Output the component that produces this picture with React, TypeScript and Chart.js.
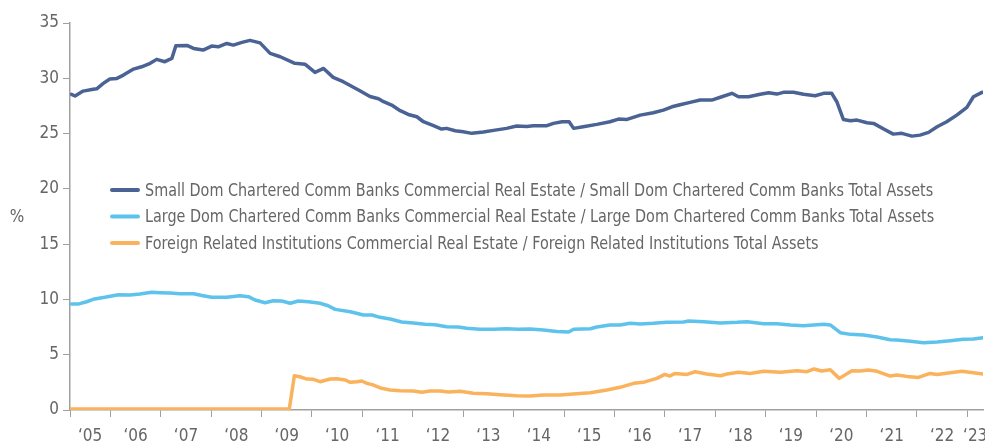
import React, { useEffect, useRef } from "react";
import { Chart, registerables } from "chart.js";

Chart.register(...registerables);

// ---- data (x = decimal year) ----
const smallX = [2005.23, 2005.30, 2005.46, 2005.66, 2005.73, 2005.86, 2005.99, 2006.13, 2006.26, 2006.46, 2006.62, 2006.79, 2006.92, 2007.08, 2007.22, 2007.30, 2007.52, 2007.65, 2007.84, 2008.01, 2008.14, 2008.31, 2008.44, 2008.61, 2008.77, 2008.97, 2009.17, 2009.37, 2009.66, 2009.86, 2010.06, 2010.23, 2010.42, 2010.62, 2010.95, 2011.15, 2011.32, 2011.42, 2011.58, 2011.75, 2011.91, 2012.08, 2012.21, 2012.41, 2012.57, 2012.67, 2012.84, 2013.00, 2013.17, 2013.40, 2013.60, 2013.86, 2014.06, 2014.26, 2014.39, 2014.66, 2014.79, 2014.96, 2015.10, 2015.19, 2015.38, 2015.65, 2015.91, 2016.08, 2016.25, 2016.51, 2016.77, 2016.97, 2017.14, 2017.30, 2017.50, 2017.70, 2017.93, 2018.13, 2018.33, 2018.46, 2018.66, 2018.89, 2019.06, 2019.22, 2019.35, 2019.55, 2019.75, 2019.98, 2020.15, 2020.31, 2020.41, 2020.54, 2020.68, 2020.81, 2021.01, 2021.14, 2021.34, 2021.53, 2021.70, 2021.90, 2022.06, 2022.23, 2022.40, 2022.59, 2022.79, 2022.99, 2023.12, 2023.29];
const smallY = [28.55, 28.4, 28.84, 29.0, 29.05, 29.54, 29.93, 29.99, 30.29, 30.83, 31.04, 31.35, 31.71, 31.5, 31.8, 32.94, 32.97, 32.7, 32.55, 32.91, 32.85, 33.15, 33.0, 33.25, 33.43, 33.2, 32.25, 31.95, 31.35, 31.28, 30.53, 30.89, 30.08, 29.69, 28.87, 28.35, 28.15, 27.88, 27.58, 27.07, 26.73, 26.52, 26.07, 25.71, 25.41, 25.47, 25.26, 25.16, 25.02, 25.14, 25.29, 25.47, 25.68, 25.65, 25.71, 25.71, 25.92, 26.07, 26.07, 25.47, 25.62, 25.83, 26.07, 26.31, 26.28, 26.67, 26.88, 27.12, 27.42, 27.6, 27.82, 28.03, 28.03, 28.33, 28.64, 28.33, 28.33, 28.55, 28.69, 28.57, 28.73, 28.73, 28.55, 28.42, 28.64, 28.64, 27.88, 26.28, 26.16, 26.22, 25.98, 25.92, 25.41, 24.95, 25.02, 24.77, 24.86, 25.11, 25.62, 26.07, 26.67, 27.37, 28.33, 28.73];

const largeX = [2005.23, 2005.36, 2005.53, 2005.66, 2005.89, 2006.16, 2006.39, 2006.59, 2006.82, 2006.99, 2007.18, 2007.38, 2007.65, 2007.84, 2008.01, 2008.31, 2008.57, 2008.74, 2008.87, 2009.07, 2009.23, 2009.40, 2009.57, 2009.73, 2009.93, 2010.16, 2010.32, 2010.46, 2010.76, 2011.02, 2011.19, 2011.35, 2011.55, 2011.78, 2012.01, 2012.24, 2012.44, 2012.67, 2012.90, 2013.07, 2013.33, 2013.60, 2013.86, 2014.09, 2014.33, 2014.59, 2014.86, 2015.09, 2015.19, 2015.52, 2015.65, 2015.91, 2016.11, 2016.31, 2016.51, 2016.77, 2017.04, 2017.37, 2017.47, 2017.77, 2018.10, 2018.43, 2018.63, 2018.96, 2019.22, 2019.49, 2019.75, 2019.95, 2020.15, 2020.28, 2020.48, 2020.68, 2020.94, 2021.21, 2021.47, 2021.60, 2021.87, 2022.13, 2022.40, 2022.66, 2022.92, 2023.12, 2023.31];
const largeY = [9.58, 9.58, 9.79, 10.01, 10.19, 10.43, 10.40, 10.49, 10.64, 10.61, 10.58, 10.52, 10.52, 10.34, 10.19, 10.19, 10.34, 10.25, 9.95, 9.70, 9.88, 9.86, 9.65, 9.86, 9.79, 9.65, 9.43, 9.10, 8.89, 8.59, 8.59, 8.38, 8.23, 7.96, 7.87, 7.75, 7.71, 7.53, 7.50, 7.39, 7.30, 7.30, 7.35, 7.30, 7.32, 7.23, 7.11, 7.05, 7.30, 7.35, 7.50, 7.69, 7.69, 7.84, 7.78, 7.84, 7.93, 7.96, 8.05, 7.99, 7.87, 7.93, 7.99, 7.81, 7.81, 7.69, 7.62, 7.69, 7.75, 7.69, 6.99, 6.84, 6.78, 6.60, 6.36, 6.33, 6.21, 6.09, 6.15, 6.27, 6.39, 6.42, 6.54];

const foreignX = [2005.2, 2009.55, 2009.65, 2009.76, 2009.90, 2010.03, 2010.16, 2010.36, 2010.49, 2010.66, 2010.76, 2010.89, 2010.99, 2011.09, 2011.22, 2011.38, 2011.55, 2011.75, 2012.01, 2012.18, 2012.34, 2012.54, 2012.71, 2012.94, 2013.20, 2013.47, 2013.73, 2014.06, 2014.33, 2014.59, 2014.92, 2015.25, 2015.52, 2015.85, 2016.11, 2016.38, 2016.57, 2016.84, 2017.00, 2017.10, 2017.20, 2017.44, 2017.60, 2017.83, 2018.10, 2018.23, 2018.46, 2018.69, 2018.96, 2019.29, 2019.62, 2019.82, 2019.96, 2020.11, 2020.28, 2020.46, 2020.71, 2020.87, 2021.04, 2021.21, 2021.47, 2021.60, 2021.80, 2022.03, 2022.26, 2022.40, 2022.66, 2022.89, 2023.12, 2023.31];
const foreignY = [0.1, 0.1, 3.10, 3.01, 2.80, 2.77, 2.56, 2.80, 2.83, 2.71, 2.50, 2.56, 2.62, 2.41, 2.26, 1.96, 1.81, 1.75, 1.72, 1.60, 1.72, 1.72, 1.63, 1.69, 1.51, 1.47, 1.38, 1.29, 1.27, 1.36, 1.36, 1.47, 1.56, 1.81, 2.05, 2.41, 2.50, 2.86, 3.22, 3.07, 3.31, 3.22, 3.46, 3.25, 3.10, 3.25, 3.41, 3.31, 3.50, 3.41, 3.55, 3.46, 3.71, 3.53, 3.64, 2.86, 3.55, 3.53, 3.62, 3.50, 3.07, 3.16, 3.04, 2.95, 3.31, 3.22, 3.37, 3.50, 3.37, 3.25];

const seriesNames = [
  "Small Dom Chartered Comm Banks Commercial Real Estate / Small Dom Chartered Comm Banks Total Assets",
  "Large Dom Chartered Comm Banks Commercial Real Estate / Large Dom Chartered Comm Banks Total Assets",
  "Foreign Related Institutions Commercial Real Estate / Foreign Related Institutions Total Assets",
];
const seriesColors = ["#4a6394", "#5ec3ec", "#fab25c"];

const yTickValues = [0, 5, 10, 15, 20, 25, 30, 35];
const yearTicks = [2006, 2007, 2008, 2009, 2010, 2011, 2012, 2013, 2014, 2015, 2016, 2017, 2018, 2019, 2020, 2021, 2022, 2023];
const yearLabels = ["‘05", "‘06", "‘07", "‘08", "‘09", "‘10", "‘11", "‘12", "‘13", "‘14", "‘15", "‘16", "‘17", "‘18", "‘19", "‘20", "‘21", "‘22", "‘23"];
const yAxisTitle = "%";

const X_MIN = 2005.2;
const X_MAX = 2023.31;

const FONT = "'Liberation Sans Narrow', 'DejaVu Sans Condensed', 'Roboto Condensed', sans-serif";
const TEXT = "#666666";
const AXIS = "#a0a0a0";

export default function App() {
  const ref = useRef<HTMLCanvasElement | null>(null);

  useEffect(() => {
    if (!ref.current) return;

    const bounds = [X_MIN, ...yearTicks, X_MAX];
    const labelPos: number[] = [];
    for (let i = 0; i < bounds.length - 1; i++) labelPos.push((bounds[i] + bounds[i + 1]) / 2);
    const labelMap = new Map<number, string>();
    labelPos.forEach((v, i) => labelMap.set(v, yearLabels[i]));
    const markSet = new Set<number>([X_MIN, ...yearTicks]);

    const overlay = {
      id: "overlay",
      afterDraw(chart: any) {
        const ctx = chart.ctx;
        ctx.save();
        ctx.font = `17px ${FONT}`;
        ctx.fillStyle = TEXT;
        ctx.textBaseline = "middle";
        ctx.textAlign = "center";
        ctx.fillText(yAxisTitle, 17, 218);
        ctx.textAlign = "left";
        const rows = [190, 216.5, 243];
        seriesNames.forEach((name, i) => {
          ctx.strokeStyle = seriesColors[i];
          ctx.lineWidth = 4;
          ctx.lineCap = "round";
          ctx.beginPath();
          ctx.moveTo(112, rows[i]);
          ctx.lineTo(138, rows[i]);
          ctx.stroke();
          ctx.save();
          ctx.font = `18px ${FONT}`;
          ctx.translate(145, rows[i] + 1);
          ctx.scale(0.888, 1);
          ctx.fillText(name, 0, 0);
          ctx.restore();
        });
        ctx.restore();
      },
    };

    const mk = (xs: number[], ys: number[]) => xs.map((x, i) => ({ x, y: ys[i] }));

    const chart = new Chart(ref.current, {
      type: "line",
      data: {
        datasets: [
          { label: seriesNames[0], data: mk(smallX, smallY), borderColor: seriesColors[0] },
          { label: seriesNames[1], data: mk(largeX, largeY), borderColor: seriesColors[1] },
          { label: seriesNames[2], data: mk(foreignX, foreignY), borderColor: seriesColors[2] },
        ].map((d) => ({
          ...d,
          borderWidth: 3.5,
          pointRadius: 0,
          tension: 0,
          fill: false,
          borderJoinStyle: "round" as const,
          borderCapStyle: "round" as const,
        })),
      },
      options: {
        animation: false,
        responsive: false,
        maintainAspectRatio: false,
        layout: { padding: { left: 0, right: 2, top: 23, bottom: 0 } },
        plugins: { legend: { display: false }, tooltip: { enabled: false } },
        scales: {
          x: {
            type: "linear",
            min: X_MIN,
            max: X_MAX,
            afterBuildTicks: (scale: any) => {
              const vals = [...markSet, ...labelPos].sort((a, b) => a - b);
              scale.ticks = vals.map((v) => ({ value: v }));
            },
            afterFit: (scale: any) => {
              scale.height = 33;
              scale.paddingLeft = 0;
              scale.paddingRight = 0;
            },
            ticks: {
              autoSkip: false,
              maxRotation: 0,
              minRotation: 0,
              padding: 9,
              color: TEXT,
              font: { family: FONT, size: 17 },
              callback: (v: any) => labelMap.get(Number(v)) ?? "",
            },
            grid: {
              display: true,
              drawOnChartArea: false,
              drawTicks: true,
              tickLength: 7,
              tickWidth: 1,
              tickColor: (ctx: any) => (markSet.has(ctx.tick?.value) ? AXIS : "rgba(0,0,0,0)"),
            },
            border: { display: true, color: AXIS, width: 1.5 },
          },
          y: {
            type: "linear",
            min: 0,
            max: 35,
            afterBuildTicks: (scale: any) => {
              scale.ticks = yTickValues.map((v) => ({ value: v }));
            },
            afterFit: (scale: any) => {
              scale.width = 70;
              scale.paddingTop = 0;
              scale.paddingBottom = 0;
            },
            ticks: {
              padding: 4,
              color: TEXT,
              font: { family: FONT, size: 17 },
            },
            grid: {
              display: true,
              drawOnChartArea: false,
              drawTicks: true,
              tickLength: 7,
              tickWidth: 1,
              tickColor: AXIS,
            },
            border: { display: true, color: AXIS, width: 1.5 },
          },
        },
      },
      plugins: [overlay],
    } as any);

    return () => chart.destroy();
  }, []);

  return (
    <div style={{ position: "fixed", left: 0, top: 0, width: 985, height: 443, background: "#fff" }}>
      <canvas ref={ref} width={985} height={443} style={{ width: 985, height: 443, display: "block" }} />
    </div>
  );
}
